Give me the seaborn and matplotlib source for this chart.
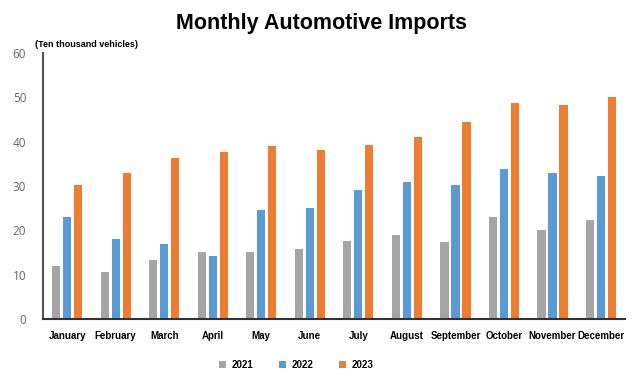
import seaborn as sns
import matplotlib.pyplot as plt
import pandas as pd

months = ['January', 'February', 'March', 'April', 'May', 'June', 'July',
          'August', 'September', 'October', 'November', 'December']
y2021 = [12.0, 10.6, 13.2, 15.2, 15.2, 15.8, 17.5, 18.9, 17.3, 23.1, 20.0, 22.4]
y2022 = [23.1, 18.0, 17.0, 14.1, 24.5, 25.0, 29.1, 30.9, 30.1, 33.8, 33.0, 32.3]
y2023 = [30.1, 33.0, 36.4, 37.7, 39.0, 38.2, 39.3, 41.0, 44.5, 48.8, 48.2, 50.0]
years = ['2021', '2022', '2023']

df = pd.DataFrame({
    'month': months * 3,
    'year': [y for y in years for _ in months],
    'value': y2021 + y2022 + y2023,
})

sns.set_style('white')
plt.rcParams['font.family'] = ['Liberation Sans', 'DejaVu Sans']
plt.rcParams['text.color'] = 'black'
fig = plt.figure(figsize=(6.4, 3.89), dpi=100)
ax = fig.add_axes([0.067, 0.18, 0.91, 0.684])

palette = {'2021': '#A5A5A5', '2022': '#5B9BD5', '2023': '#ED7D31'}
sns.barplot(data=df, x='month', y='value', hue='year', palette=palette,
            width=0.68, gap=0.25, saturation=1, linewidth=0, ax=ax)

ax.set_ylim(0, 60)
ax.set_yticks(range(0, 61, 10))
ax.set_xlim(-0.5, 11.5)
ax.set_xlabel('')
ax.set_ylabel('')
for s in ['top', 'right']:
    ax.spines[s].set_visible(False)
ax.spines['left'].set_color('#555555')
ax.spines['left'].set_linewidth(1.5)
ax.spines['bottom'].set_color('#333333')
ax.spines['bottom'].set_linewidth(1.5)
ax.tick_params(axis='y', length=0, labelsize=8.5, labelcolor='#666666', pad=12)
ax.tick_params(axis='x', length=0, labelsize=7, labelcolor='black', pad=9)
for lbl in ax.get_xticklabels():
    lbl.set_fontweight('bold')
for lbl in ax.get_yticklabels():
    lbl.set_family(['Open Sans', 'DejaVu Sans'])

ax.legend(loc='upper center', bbox_to_anchor=(0.435, -0.12), ncol=3, frameon=False,
          handlelength=0.7, handleheight=0.7, columnspacing=2.6, handletextpad=0.6,
          prop={'weight': 'bold', 'size': 7})

fig.text(0.503, 0.94, 'Monthly Automotive Imports', ha='center', va='center',
         fontsize=15.5, fontweight='bold', color='black')
fig.text(0.055, 0.885, '(Ten thousand vehicles)', ha='left', va='center',
         fontsize=6.5, fontweight='bold', color='black')

plt.savefig('out.png', dpi=100)
